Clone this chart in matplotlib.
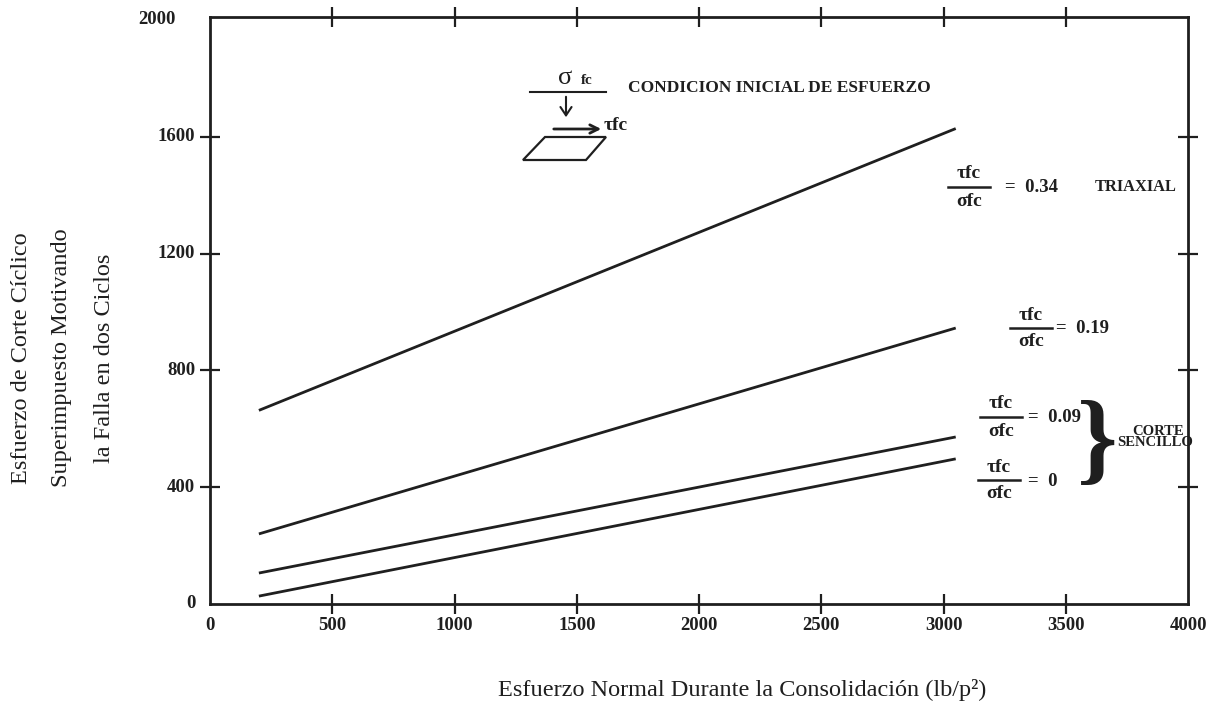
import matplotlib
matplotlib.use("Agg")
import matplotlib.pyplot as plt
from matplotlib.patches import Polygon, FancyArrowPatch
from matplotlib.lines import Line2D

# Data: cyclic shear stress causing failure in two cycles vs. consolidation normal stress
x_start = [200, 200, 200, 200]
x_end = [3050, 3050, 3050, 3050]
ratios = ["0.34", "0.19", "0.09", "0"]
y_start = [663, 240, 106, 27]
y_end = [1628, 945, 572, 497]

x_ticks = [0, 500, 1000, 1500, 2000, 2500, 3000, 3500, 4000]
y_ticks = [0, 400, 800, 1200, 1600, 2000]

W, H = 1224, 709
SERIF = ["Liberation Serif", "DejaVu Serif"]
INK = "#1f1f1f"

fig = plt.figure(figsize=(W / 100, H / 100), dpi=100)
ax = fig.add_axes([210 / W, 1 - 604 / H, (1188 - 210) / W, (604 - 17) / H])
ax.set_xlim(0, 4000)
ax.set_ylim(0, 2010)

for xs, xe, ys, ye in zip(x_start, x_end, y_start, y_end):
    ax.plot([xs, xe], [ys, ye], color=INK, lw=2.0, solid_capstyle="butt")

for s in ax.spines.values():
    s.set_color(INK)
    s.set_linewidth(2.0)

# tick marks crossing the frame on all sides
ax.set_xticks(x_ticks[1:-1])
ax.set_yticks(y_ticks[1:-1])
ax.tick_params(axis="both", which="both", direction="inout", length=15, width=1.6,
               color=INK, top=True, right=True, labelleft=False, labelbottom=False)

# tick labels
for v in x_ticks:
    ax.text(v, -45, str(v), ha="center", va="top", fontsize=13.5, fontweight="bold",
            family=SERIF, color=INK)
for v in y_ticks:
    xoff = -140 if v == 2000 else -60
    ax.text(xoff, v, str(v), ha="right", va="center", fontsize=13.5, fontweight="bold",
            family=SERIF, color=INK)


def fp(x, y):
    return (x / W, 1 - y / H)


def ftext(x, y, s, **kw):
    kw.setdefault("family", SERIF)
    kw.setdefault("color", INK)
    fig.text(*fp(x, y), s, **kw)


# axis titles
ylab = ["Esfuerzo de Corte Cíclico", "Superimpuesto Motivando", "la Falla en dos Ciclos"]
for xi, t in zip([22, 62, 104], ylab):
    ftext(xi, 358, t, rotation=90, ha="center", va="center", fontsize=17.5)
ftext(742, 690, "Esfuerzo Normal Durante la Consolidación (lb/p²)", ha="center",
      va="center", fontsize=17.5)

# initial stress condition sketch
ftext(565, 78, "σ", ha="center", va="center", fontsize=19)
ftext(587, 81, "fc", ha="center", va="center", fontsize=11, fontweight="bold")
fig.add_artist(Line2D([530 / W, 606 / W], [1 - 92 / H, 1 - 92 / H], color=INK, lw=1.5))
fig.add_artist(FancyArrowPatch(fp(566, 94), fp(566, 120), transform=fig.transFigure,
                               arrowstyle="->,head_length=6,head_width=4", color=INK, lw=1.5))
fig.add_artist(FancyArrowPatch(fp(551, 129), fp(604, 129), transform=fig.transFigure,
                               arrowstyle="->,head_length=6,head_width=3", color=INK, lw=2))
ftext(604, 126, "τfc", ha="left", va="center", fontsize=14, fontweight="bold")
fig.add_artist(Polygon([fp(523, 160), fp(545, 137), fp(606, 137), fp(586, 160)],
                       closed=True, fill=False, edgecolor=INK, lw=1.6,
                       transform=fig.transFigure))
ftext(628, 88, "CONDICION INICIAL DE ESFUERZO", ha="left", va="center",
      fontsize=12.5, fontweight="bold")


def ratio_label(xc, yline, half, value, eq_x):
    ftext(xc, yline - 13, "τfc", ha="center", va="center", fontsize=14, fontweight="bold")
    fig.add_artist(Line2D([(xc - half) / W, (xc + half) / W], [1 - yline / H] * 2,
                          color=INK, lw=1.8))
    ftext(xc, yline + 14, "σfc", ha="center", va="center", fontsize=14, fontweight="bold")
    ftext(eq_x, yline + 1, "=  " + value, ha="left", va="center", fontsize=13.5,
          fontweight="bold")


ratio_label(969, 187, 21, ratios[0], 1005)
ftext(1095, 187, "TRIAXIAL", ha="left", va="center", fontsize=11.8, fontweight="bold")
ratio_label(1031, 328, 21, ratios[1], 1056)
ratio_label(1001, 417, 21, ratios[2], 1028)
ratio_label(999, 480, 21, ratios[3], 1028)

ftext(1097, 447, "}", ha="center", va="center", fontsize=74, fontweight="bold")
ftext(1158, 431, "CORTE", ha="center", va="center", fontsize=10.5, fontweight="bold")
ftext(1155, 443, "SENCILLO", ha="center", va="center", fontsize=10.5, fontweight="bold")

fig.savefig("out.png", dpi=100, facecolor="white")
